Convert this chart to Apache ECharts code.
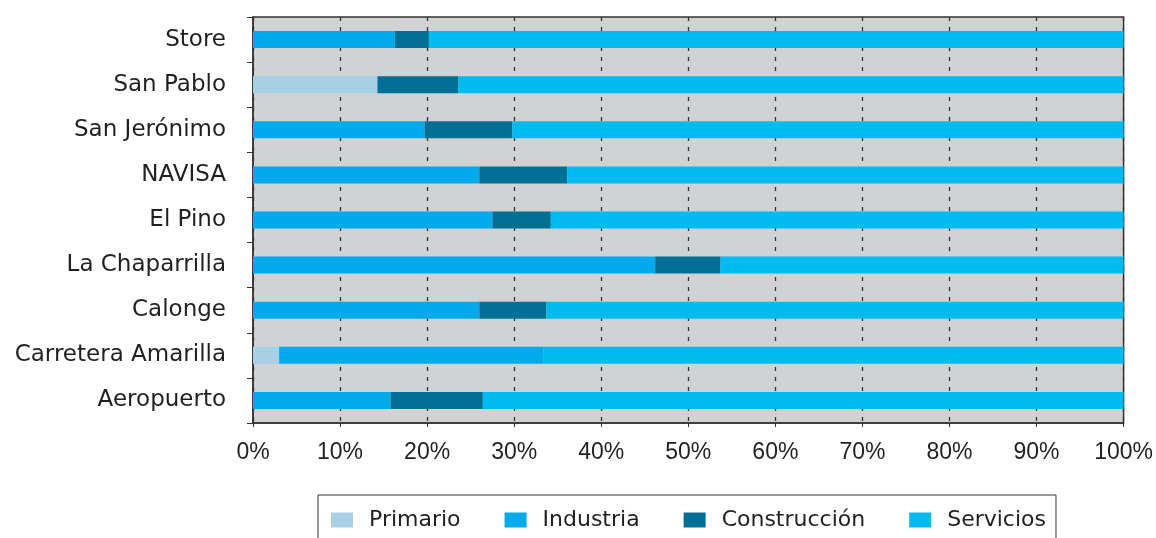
<!DOCTYPE html>
<html><head><meta charset="utf-8">
<script src="https://cdn.jsdelivr.net/npm/echarts@6/dist/echarts.min.js"></script>
<style>html,body{margin:0;padding:0;background:#fff}#c{width:1156px;height:538px}</style>
</head><body><div id="c"></div>
<script>
var categories = ['Store','San Pablo','San Jerónimo','NAVISA','El Pino','La Chaparrilla','Calonge','Carretera Amarilla','Aeropuerto'];
var primario     = [0, 14.3, 0, 0, 0, 0, 0, 3.0, 0];
var industria    = [16.3, 0, 19.7, 26.0, 27.5, 46.2, 26.0, 30.4, 15.8];
var construccion = [3.9, 9.3, 10.1, 10.1, 6.7, 7.5, 7.7, 0, 10.6];
var servicios    = [79.8, 76.4, 70.2, 63.9, 65.8, 46.3, 66.3, 66.6, 73.6];
var seriesNames = ['Primario','Industria','Construcción','Servicios'];
var colors = ['#a6d0e4','#00aaeb','#006f94','#00bbf0'];
var FONT = 'DejaVu Sans';
var chart = echarts.init(document.getElementById('c'), null, {renderer:'canvas'});
function mk(name, data, i){
  return {name:name, type:'bar', stack:'t', data:data, barWidth:17,
    itemStyle:{color:colors[i]}, emphasis:{disabled:true}};
}
chart.setOption({
  animation:false,
  textStyle:{fontFamily:FONT},
  grid:{left:253, right:31, top:17, bottom:115, show:true, backgroundColor:'#d1d2d4', borderColor:'#333', borderWidth:1.5},
  legend:{left:318, top:495, itemWidth:22, itemHeight:15, itemGap:44, padding:[14,10,20,13],
    borderColor:'#333', borderWidth:1, icon:'rect',
    textStyle:{fontFamily:FONT, fontSize:22, color:'#231f20', padding:[0,0,0,11]},
    data:seriesNames},
  xAxis:{type:'value', min:0, max:100, interval:10,
    axisLine:{show:true, lineStyle:{color:'#333', width:1.5}},
    axisTick:{show:true, length:4, lineStyle:{color:'#333'}},
    splitLine:{show:true, lineStyle:{color:'#333', type:[4,6], width:1.3}},
    axisLabel:{formatter:'{value}%', fontFamily:'Liberation Sans', fontSize:23, color:'#231f20', margin:18}},
  yAxis:{type:'category', data:categories, inverse:true,
    axisLine:{show:true, lineStyle:{color:'#333', width:1.5}},
    axisTick:{show:true, length:6, lineStyle:{color:'#333'}},
    axisLabel:{fontFamily:FONT, fontSize:23, color:'#231f20', margin:27}},
  series:[mk(seriesNames[0],primario,0), mk(seriesNames[1],industria,1), mk(seriesNames[2],construccion,2), mk(seriesNames[3],servicios,3)]
});
</script></body></html>
